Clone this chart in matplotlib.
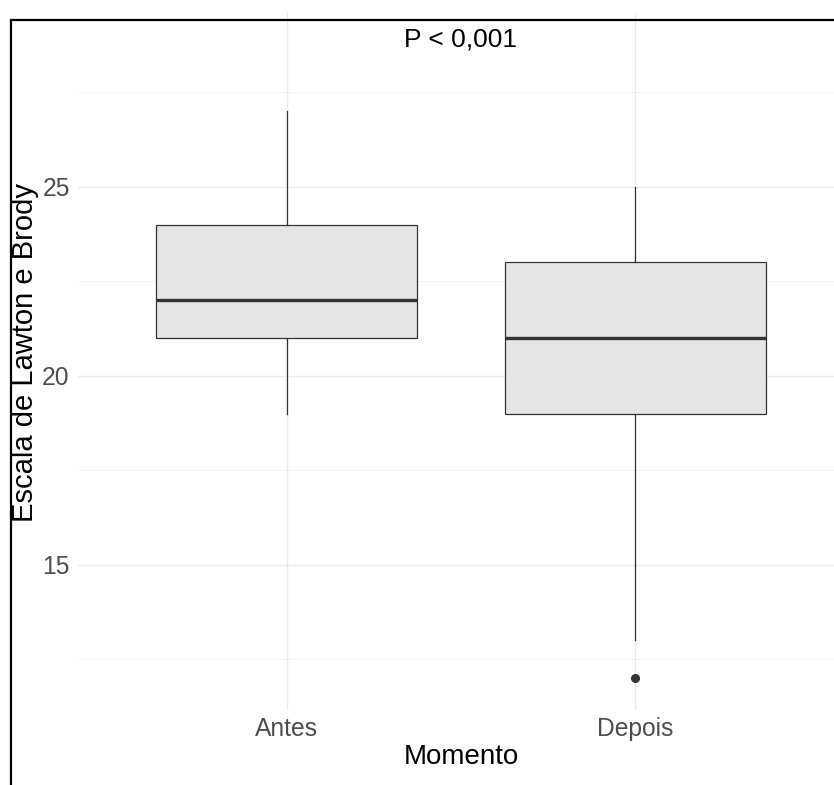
import numpy as np
import matplotlib
matplotlib.use("Agg")
import matplotlib.pyplot as plt
from matplotlib.lines import Line2D

plt.rcParams['font.family'] = ['Liberation Sans', 'DejaVu Sans']

groups = ['Antes', 'Depois']
whislo = [19, 13]
q1 = [21, 19]
med = [22, 21]
q3 = [24, 23]
whishi = [27, 25]
fliers = [[], [12]]
p_text = 'P < 0,001'

stats = []
for i in range(len(groups)):
    stats.append(dict(label=groups[i], whislo=whislo[i], q1=q1[i], med=med[i],
                      q3=q3[i], whishi=whishi[i], fliers=fliers[i]))

fig = plt.figure(figsize=(8.34, 7.85), dpi=100)
ax = fig.add_axes([78 / 834, 75 / 785, 766 / 834, 698.5 / 785])

# ggplot minimal style grid
for y in [15, 20, 25]:
    ax.axhline(y, color='#EBEBEB', lw=1.0, zorder=0)
for y in [12.5, 17.5, 22.5, 27.5]:
    ax.axhline(y, color='#F3F3F3', lw=0.7, zorder=0)
for x in [1, 2]:
    ax.axvline(x, color='#EBEBEB', lw=1.0, zorder=0)

ax.bxp(stats, positions=[1, 2], widths=0.75, patch_artist=True, showcaps=False,
       boxprops=dict(facecolor='#E5E5E5', edgecolor='#333333', lw=0.9),
       whiskerprops=dict(color='#333333', lw=0.9),
       medianprops=dict(color='#333333', lw=2.4),
       flierprops=dict(marker='o', markerfacecolor='#333333', markeredgecolor='#333333',
                       markersize=5.5))

ax.text(1.5, 28.89, p_text, ha='center', va='center', fontsize=19, color='black')

ax.set_xlim(0.4, 2.6)
ax.set_ylim(11.16, 29.64)
ax.set_yticks([15, 20, 25])
ax.set_xticks([1, 2])
ax.set_xticklabels(groups)
ax.tick_params(axis='both', length=0, labelsize=17.7, labelcolor='#4D4D4D')
ax.tick_params(axis='x', pad=5)
ax.tick_params(axis='y', pad=6)
for s in ax.spines.values():
    s.set_visible(False)

ax.set_xlabel('Momento', fontsize=20, color='black', va='center')
ax.xaxis.set_label_coords(0.5, (710 - 757) / 698.5)
ax.set_ylabel('Escala de Lawton e Brody', fontsize=21, color='black', va='center')
ax.yaxis.set_label_coords((25 - 78) / 766, (710 - 352) / 698.5)

# black frame lines on top and left
fig.add_artist(Line2D([10.5 / 834, 1], [1 - 20 / 785, 1 - 20 / 785], color='black', lw=1.6))
fig.add_artist(Line2D([10.5 / 834, 10.5 / 834], [0, 1 - 20 / 785], color='black', lw=1.6))

fig.savefig('out.png', dpi=100)
